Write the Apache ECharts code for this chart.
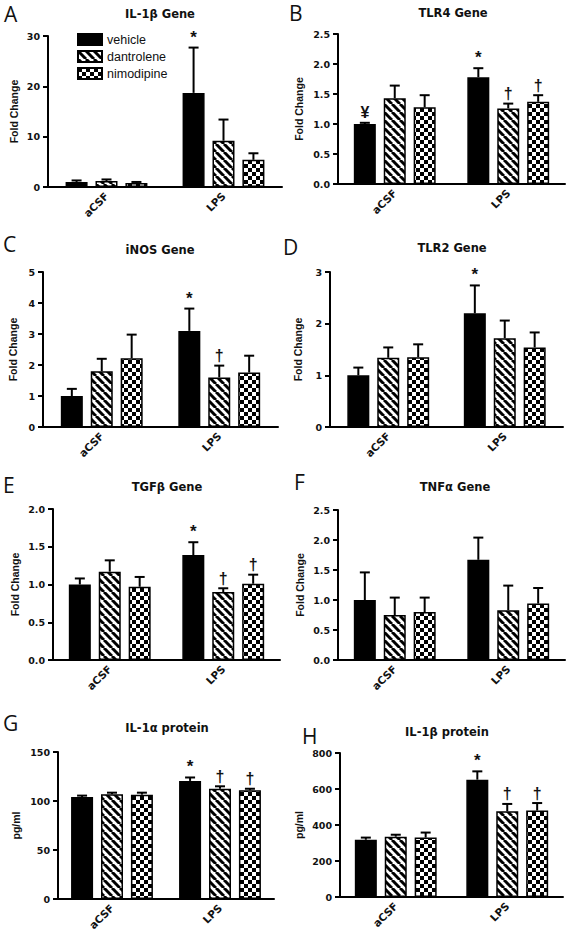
<!DOCTYPE html>
<html><head><meta charset="utf-8">
<script src="https://cdn.jsdelivr.net/npm/echarts@6/dist/echarts.min.js"></script>
<style>html,body{margin:0;padding:0;background:#fff}#c{width:567px;height:939px}</style>
</head><body><div id="c"></div><script>
// ---------- DATA ----------
const categories = ['aCSF', 'LPS'];
const groupNames = ['vehicle', 'dantrolene', 'nimodipine'];

// A: IL-1β Gene (Fold Change)
const aTicks = [0, 10, 20, 30];
const aVehicle = [1.0, 18.7], aVehicleErr = [0.3, 9.0], aVehicleMarks = ['', '*'];
const aDantrolene = [1.2, 9.2], aDantroleneErr = [0.3, 4.2], aDantroleneMarks = ['', ''];
const aNimodipine = [0.8, 5.4], aNimodipineErr = [0.2, 1.3], aNimodipineMarks = ['', ''];

// B: TLR4 Gene
const bTicks = [0, 0.5, 1.0, 1.5, 2.0, 2.5];
const bVehicle = [1.0, 1.78], bVehicleErr = [0.02, 0.15], bVehicleMarks = ['¥', '*'];
const bDantrolene = [1.43, 1.26], bDantroleneErr = [0.21, 0.08], bDantroleneMarks = ['', '†'];
const bNimodipine = [1.28, 1.37], bNimodipineErr = [0.2, 0.11], bNimodipineMarks = ['', '†'];

// C: iNOS Gene
const cTicks = [0, 1, 2, 3, 4, 5];
const cVehicle = [1.0, 3.1], cVehicleErr = [0.23, 0.72], cVehicleMarks = ['', '*'];
const cDantrolene = [1.8, 1.6], cDantroleneErr = [0.4, 0.38], cDantroleneMarks = ['', '†'];
const cNimodipine = [2.22, 1.76], cNimodipineErr = [0.76, 0.54], cNimodipineMarks = ['', ''];

// D: TLR2 Gene
const dTicks = [0, 1, 2, 3];
const dVehicle = [1.0, 2.2], dVehicleErr = [0.15, 0.54], dVehicleMarks = ['', '*'];
const dDantrolene = [1.34, 1.72], dDantroleneErr = [0.2, 0.34], dDantroleneMarks = ['', ''];
const dNimodipine = [1.35, 1.54], dNimodipineErr = [0.25, 0.29], dNimodipineMarks = ['', ''];

// E: TGFβ Gene
const eTicks = [0, 0.5, 1.0, 1.5, 2.0];
const eVehicle = [1.0, 1.39], eVehicleErr = [0.08, 0.17], eVehicleMarks = ['', '*'];
const eDantrolene = [1.17, 0.9], eDantroleneErr = [0.15, 0.05], eDantroleneMarks = ['', '†'];
const eNimodipine = [0.97, 1.01], eNimodipineErr = [0.13, 0.12], eNimodipineMarks = ['', '†'];

// F: TNFα Gene
const fTicks = [0, 0.5, 1.0, 1.5, 2.0, 2.5];
const fVehicle = [1.0, 1.67], fVehicleErr = [0.46, 0.37], fVehicleMarks = ['', ''];
const fDantrolene = [0.75, 0.83], fDantroleneErr = [0.29, 0.41], fDantroleneMarks = ['', ''];
const fNimodipine = [0.8, 0.94], fNimodipineErr = [0.24, 0.26], fNimodipineMarks = ['', ''];

// G: IL-1α protein (pg/ml)
const gTicks = [0, 50, 100, 150];
const gVehicle = [104, 120.5], gVehicleErr = [1.5, 3.5], gVehicleMarks = ['', '*'];
const gDantrolene = [107, 112.5], gDantroleneErr = [1.5, 2.5], gDantroleneMarks = ['', '†'];
const gNimodipine = [106.5, 111], gNimodipineErr = [2, 1.5], gNimodipineMarks = ['', '†'];

// H: IL-1β protein (pg/ml)
const hTicks = [0, 200, 400, 600, 800];
const hVehicle = [318, 652], hVehicleErr = [12, 46], hVehicleMarks = ['', '*'];
const hDantrolene = [335, 476], hDantroleneErr = [11, 41], hDantroleneMarks = ['', '†'];
const hNimodipine = [330, 480], hNimodipineErr = [28, 42], hNimodipineMarks = ['', '†'];

// ---------- PATTERNS ----------
function stripeCanvas() {
  const s = 8, c = document.createElement('canvas'); c.width = c.height = s;
  const g = c.getContext('2d'); g.fillStyle = '#fff'; g.fillRect(0, 0, s, s);
  g.strokeStyle = '#000'; g.lineWidth = 3;
  for (let i = -1; i <= 1; i++) { g.beginPath(); g.moveTo(i * s, 0); g.lineTo(i * s + s, s); g.stroke(); }
  return c;
}
function checkerCanvas() {
  const s = 8, h = 4, c = document.createElement('canvas'); c.width = c.height = s;
  const g = c.getContext('2d'); g.fillStyle = '#fff'; g.fillRect(0, 0, s, s);
  g.fillStyle = '#000'; g.fillRect(0, 0, h, h); g.fillRect(h, h, h, h);
  return c;
}
const fills = ['#000', { image: stripeCanvas(), repeat: 'repeat' }, { image: checkerCanvas(), repeat: 'repeat' }];

// ---------- PANELS ----------
const panels = [
  { letter: 'A', title: 'IL-1β Gene', yName: 'Fold Change', ticks: aTicks, dec: 0,
    vals: [aVehicle, aDantrolene, aNimodipine], errs: [aVehicleErr, aDantroleneErr, aNimodipineErr],
    marks: [aVehicleMarks, aDantroleneMarks, aNimodipineMarks],
    grid: { left: 48, top: 36, width: 234, height: 151 }, nameGap: 29, tx: 160, ty: 14, lx: 4, ly: 14 },
  { letter: 'B', title: 'TLR4 Gene', yName: 'Fold Change', ticks: bTicks, dec: 1,
    vals: [bVehicle, bDantrolene, bNimodipine], errs: [bVehicleErr, bDantroleneErr, bNimodipineErr],
    marks: [bVehicleMarks, bDantroleneMarks, bNimodipineMarks],
    grid: { left: 338, top: 34, width: 227, height: 150 }, nameGap: 34, tx: 453, ty: 13, lx: 289, ly: 13 },
  { letter: 'C', title: 'iNOS Gene', yName: 'Fold Change', ticks: cTicks, dec: 0,
    vals: [cVehicle, cDantrolene, cNimodipine], errs: [cVehicleErr, cDantroleneErr, cNimodipineErr],
    marks: [cVehicleMarks, cDantroleneMarks, cNimodipineMarks],
    grid: { left: 43, top: 272, width: 235, height: 155 }, nameGap: 25, tx: 160, ty: 250, lx: 3, ly: 244 },
  { letter: 'D', title: 'TLR2 Gene', yName: 'Fold Change', ticks: dTicks, dec: 0,
    vals: [dVehicle, dDantrolene, dNimodipine], errs: [dVehicleErr, dDantroleneErr, dNimodipineErr],
    marks: [dVehicleMarks, dDantroleneMarks, dNimodipineMarks],
    grid: { left: 330, top: 272, width: 233, height: 155 }, nameGap: 27, tx: 452, ty: 248, lx: 283, ly: 247 },
  { letter: 'E', title: 'TGFβ Gene', yName: 'Fold Change', ticks: eTicks, dec: 1,
    vals: [eVehicle, eDantrolene, eNimodipine], errs: [eVehicleErr, eDantroleneErr, eNimodipineErr],
    marks: [eVehicleMarks, eDantroleneMarks, eNimodipineMarks],
    grid: { left: 53, top: 509, width: 227, height: 151 }, nameGap: 33, tx: 167, ty: 487, lx: 3, ly: 485 },
  { letter: 'F', title: 'TNFα Gene', yName: 'Fold Change', ticks: fTicks, dec: 1,
    vals: [fVehicle, fDantrolene, fNimodipine], errs: [fVehicleErr, fDantroleneErr, fNimodipineErr],
    marks: [fVehicleMarks, fDantroleneMarks, fNimodipineMarks],
    grid: { left: 338, top: 510, width: 227, height: 150 }, nameGap: 33, tx: 455, ty: 487, lx: 294, ly: 482 },
  { letter: 'G', title: 'IL-1α protein', yName: 'pg/ml', ticks: gTicks, dec: 0,
    vals: [gVehicle, gDantrolene, gNimodipine], errs: [gVehicleErr, gDantroleneErr, gNimodipineErr],
    marks: [gVehicleMarks, gDantroleneMarks, gNimodipineMarks],
    grid: { left: 58, top: 752, width: 216, height: 147 }, nameGap: 37, tx: 167, ty: 728, lx: 3, ly: 723 },
  { letter: 'H', title: 'IL-1β protein', yName: 'pg/ml', ticks: hTicks, dec: 0,
    vals: [hVehicle, hDantrolene, hNimodipine], errs: [hVehicleErr, hDantroleneErr, hNimodipineErr],
    marks: [hVehicleMarks, hDantroleneMarks, hNimodipineMarks],
    grid: { left: 340, top: 753, width: 223, height: 144 }, nameGap: 36, tx: 447, ty: 732, lx: 302, ly: 736 }
];

const BW = 22, GAP_PCT = 0.36, GAP = BW * GAP_PCT;
const TICK_FONT = '"DejaVu Sans", sans-serif';
const ARIAL = 'Arial, "Liberation Sans", sans-serif';
const option = { animation: false, backgroundColor: '#fff', color: ['#000'], grid: [], xAxis: [], yAxis: [], series: [], graphic: [] };

panels.forEach((p, pi) => {
  option.grid.push(Object.assign({ containLabel: false }, p.grid));
  option.xAxis.push({
    type: 'category', gridIndex: pi, data: categories,
    axisLine: { lineStyle: { color: '#000', width: 2 } },
    axisTick: { alignWithLabel: true, length: 5, lineStyle: { color: '#000', width: 2 } },
    axisLabel: { rotate: 45, margin: 7, color: '#111', fontWeight: 'bold', fontSize: 10.5, fontFamily: TICK_FONT }
  });
  const t = p.ticks;
  option.yAxis.push({
    type: 'value', gridIndex: pi, min: t[0], max: t[t.length - 1], interval: t[1] - t[0],
    name: p.yName, nameLocation: 'middle', nameGap: p.nameGap,
    nameTextStyle: { fontWeight: 'bold', fontSize: 10.5, fontFamily: ARIAL, color: '#111' },
    splitLine: { show: false },
    axisLine: { show: true, lineStyle: { color: '#000', width: 2 } },
    axisTick: { show: true, length: 5, lineStyle: { color: '#000', width: 2 } },
    axisLabel: { margin: 8, color: '#111', fontWeight: 'bold', fontSize: 9.5, fontFamily: TICK_FONT,
      formatter: v => v.toFixed(p.dec) }
  });
  groupNames.forEach((gName, k) => {
    option.series.push({
      type: 'bar', name: gName, xAxisIndex: pi, yAxisIndex: pi,
      data: p.vals[k], barWidth: BW, barGap: (GAP_PCT * 100) + '%',
      itemStyle: { color: fills[k], borderColor: '#000', borderWidth: 1.5 },
      emphasis: { disabled: true }
    });
  });
  const errData = [], errMarks = [];
  groupNames.forEach((gName, k) => {
    categories.forEach((c, i) => {
      errData.push([i, k, p.vals[k][i], p.errs[k][i]]);
      errMarks.push(p.marks[k][i]);
    });
  });
  option.series.push({
    type: 'custom', xAxisIndex: pi, yAxisIndex: pi, data: errData, z: 5, silent: true,
    itemStyle: { color: '#111' },
    renderItem: function (params, api) {
      const cat = api.value(0), k = api.value(1), mean = api.value(2), err = api.value(3);
      const base = api.coord([cat, mean]);
      const top = api.coord([cat, mean + err]);
      const x = base[0] + (k - 1) * (BW + GAP);
      const children = [
        { type: 'line', shape: { x1: x, y1: base[1], x2: x, y2: top[1] }, style: { stroke: '#000', lineWidth: 2 } },
        { type: 'line', shape: { x1: x - 5, y1: top[1], x2: x + 5, y2: top[1] }, style: { stroke: '#000', lineWidth: 2 } }
      ];
      const m = errMarks[params.dataIndex];
      if (m) {
        children.push({ type: 'text', style: { text: m, x: x, y: top[1] - 2, align: 'center', verticalAlign: 'bottom',
          fontSize: m === '*' ? 17 : 16, fontWeight: 'bold', fontFamily: ARIAL, fill: '#111' } });
      }
      return { type: 'group', children };
    }
  });
  option.graphic.push({ type: 'text', x: p.tx, y: p.ty,
    style: { text: p.title, align: 'center', verticalAlign: 'middle', fontSize: 11.5, fontWeight: 'bold', fontFamily: TICK_FONT, fill: '#111' } });
  option.graphic.push({ type: 'text', x: p.lx, y: p.ly,
    style: { text: p.letter, align: 'left', verticalAlign: 'middle', fontSize: 21, fontFamily: '"Open Sans", sans-serif', fill: '#111' } });
});

option.legend = {
  data: groupNames, left: 72, top: 28, orient: 'vertical', itemWidth: 24, itemHeight: 11, itemGap: 4,
  selectedMode: false, icon: 'rect',
  textStyle: { fontFamily: ARIAL, fontSize: 12.5, color: '#111' }
};

const chart = echarts.init(document.getElementById('c'), null, { renderer: 'svg' });
chart.setOption(option);
</script></body></html>
